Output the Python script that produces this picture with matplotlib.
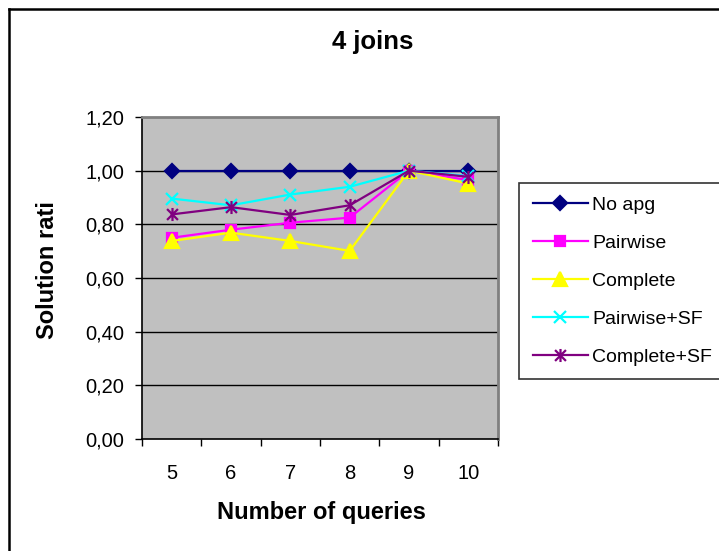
import matplotlib
matplotlib.use("Agg")
import matplotlib.pyplot as plt
from matplotlib.path import Path
from matplotlib.lines import Line2D

plt.rcParams['font.family'] = ['Liberation Sans', 'DejaVu Sans']

# Data
queries = ["5", "6", "7", "8", "9", "10"]
no_apg = [1.00, 1.00, 1.00, 1.00, 1.00, 1.00]
pairwise = [0.75, 0.78, 0.806, 0.825, 1.00, 0.965]
complete = [0.738, 0.769, 0.738, 0.701, 1.00, 0.952]
pairwise_sf = [0.896, 0.871, 0.911, 0.94, 1.00, 0.98]
complete_sf = [0.837, 0.864, 0.835, 0.871, 1.00, 0.977]
yticks = [0.0, 0.2, 0.4, 0.6, 0.8, 1.0, 1.2]
ytick_labels = ["0,00", "0,20", "0,40", "0,60", "0,80", "1,00", "1,20"]

W, H = 719, 551
fig = plt.figure(figsize=(W / 100, H / 100), dpi=100)

# plot area in pixel coordinates
left, right, top, bottom = 142, 498, 117, 439
ax = fig.add_axes([left / W, 1 - bottom / H, (right - left) / W, (bottom - top) / H])
ax.set_facecolor('#C0C0C0')

# asterisk marker: an x with a vertical bar
asterisk = Path([(-1, -1), (1, 1), (-1, 1), (1, -1), (0, -1.2), (0, 1.2)],
                [Path.MOVETO, Path.LINETO] * 3)

xs = [i + 0.5 for i in range(len(queries))]
series = [
    ("No apg", no_apg, '#000080', 'D', 7.2),
    ("Pairwise", pairwise, '#FF00FF', 's', 7.4),
    ("Complete", complete, '#FFFF00', '^', 9.8),
    ("Pairwise+SF", pairwise_sf, '#00FFFF', 'x', 8.8),
    ("Complete+SF", complete_sf, '#800080', asterisk, 9.4),
]
handles = []
for name, vals, color, marker, ms in series:
    (ln,) = ax.plot(xs, vals, color=color, lw=1.6, marker=marker, markersize=ms,
                    markerfacecolor=color, markeredgecolor=color, markeredgewidth=1.6,
                    label=name, clip_on=False, zorder=3)
    handles.append(ln)

ax.set_xlim(0, len(queries))
ax.set_ylim(0, 1.2)
ax.set_yticks(yticks)
ax.set_yticklabels(ytick_labels)
ax.set_xticks(range(len(queries) + 1))
ax.set_xticklabels([])
ax.set_xticks(xs, minor=True)
ax.set_xticklabels(queries, minor=True)
ax.tick_params(axis='x', which='major', direction='out', length=5, width=1, color='black')
ax.tick_params(axis='x', which='minor', length=0, pad=18, labelsize=14.5)
ax.tick_params(axis='y', direction='out', length=5, width=1, pad=8, labelsize=14.5)

for y in yticks[1:-1]:
    ax.axhline(y, color='black', lw=1, zorder=1)

ax.spines['left'].set_color('black')
ax.spines['left'].set_linewidth(1.2)
ax.spines['bottom'].set_color('black')
ax.spines['bottom'].set_linewidth(1.2)
ax.spines['top'].set_color('#808080')
ax.spines['top'].set_linewidth(2)
ax.spines['right'].set_color('#808080')
ax.spines['right'].set_linewidth(2)

fig.text(373 / W, 1 - 42 / H, "4 joins", ha='center', va='center',
         fontsize=18.5, fontweight='bold')
fig.text(321 / W, 1 - 513 / H, "Number of queries", ha='center', va='center',
         fontsize=17, fontweight='bold')
fig.text(48 / W, 1 - 270 / H, "Solution rati", ha='center', va='center',
         rotation=90, fontsize=17, fontweight='bold')

leg = fig.legend(handles=handles, loc='upper left',
                 bbox_to_anchor=(519 / W, 1 - 183 / H), bbox_transform=fig.transFigure,
                 fontsize=14, frameon=True, fancybox=False, edgecolor='black',
                 handlelength=2.85, handletextpad=0.2, labelspacing=1.04,
                 borderpad=0.7, borderaxespad=0)
leg.get_frame().set_linewidth(1.2)

# outer chart border (left and top edges)
fig.add_artist(Line2D([9 / W, 9 / W], [0, 1 - 9 / H], transform=fig.transFigure,
                      color='black', lw=1.8))
fig.add_artist(Line2D([9 / W, 1], [1 - 9 / H, 1 - 9 / H], transform=fig.transFigure,
                      color='black', lw=1.8))

fig.savefig("out.png", dpi=100)
